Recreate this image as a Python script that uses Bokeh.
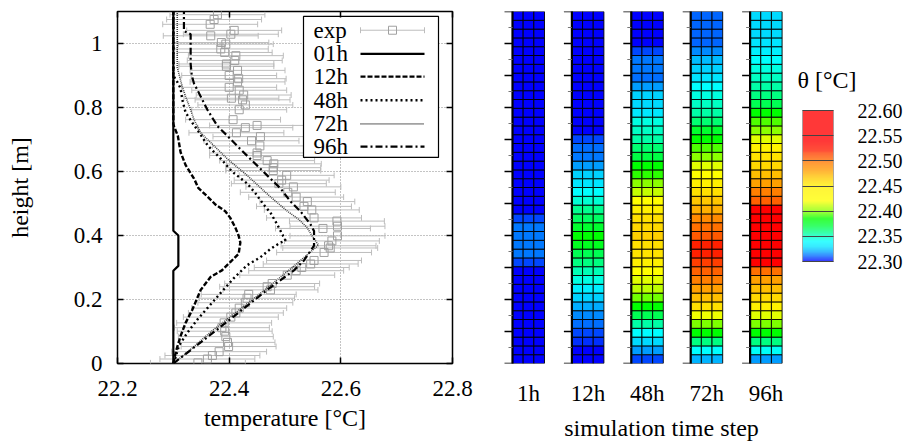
import numpy as np
from bokeh.plotting import figure
from bokeh.models import (Range1d, LinearAxis, FixedTicker, LinearColorMapper,
                          ColorBar, PrintfTickFormatter, ColumnDataSource, Label)
from bokeh.layouts import row
from bokeh.embed import file_html
from bokeh.resources import INLINE
from bokeh.core.properties import value

FONT = "Liberation Serif"

# ---------------- data: simulated vertical profiles ----------------
h01 = [0.0, 0.29, 0.305, 0.40, 0.415, 1.1]
t01 = [22.300, 22.300, 22.309, 22.309, 22.300, 22.300]

h12 = [0.0, 0.04, 0.086, 0.127, 0.168, 0.23, 0.271, 0.291, 0.317, 0.343, 0.378, 0.399,
       0.425, 0.455, 0.476, 0.496, 0.527, 0.548, 0.578, 0.62, 0.66, 0.712, 0.742, 0.75, 1.1]
t12 = [22.300, 22.305, 22.313, 22.322, 22.334, 22.349, 22.367, 22.387, 22.402, 22.417, 22.420, 22.417,
       22.411, 22.402, 22.393, 22.376, 22.358, 22.345, 22.337, 22.322, 22.313, 22.308, 22.301, 22.300, 22.300]

h48 = [0.0, 0.019, 0.055, 0.096, 0.137, 0.173, 0.219, 0.266, 0.307, 0.332, 0.358, 0.378, 0.384,
       0.404, 0.435, 0.471, 0.496, 0.532, 0.563, 0.60, 0.64, 0.68, 0.72, 0.75, 0.784, 0.825,
       0.86, 0.88, 0.90, 1.1]
t48 = [22.300, 22.304, 22.310, 22.325, 22.343, 22.361, 22.384, 22.408, 22.432, 22.456, 22.474, 22.492, 22.501,
       22.495, 22.486, 22.474, 22.462, 22.447, 22.432, 22.405, 22.385, 22.362, 22.347, 22.335, 22.322, 22.316,
       22.313, 22.307, 22.300, 22.300]

h72 = [0.0, 0.05, 0.10, 0.15, 0.20, 0.25, 0.30, 0.34, 0.37, 0.40, 0.424, 0.45, 0.475, 0.50, 0.527,
       0.588, 0.639, 0.68, 0.721, 0.762, 0.793, 0.834, 0.865, 0.885, 0.926, 1.1]
t72 = [22.300, 22.335, 22.368, 22.405, 22.442, 22.478, 22.513, 22.540, 22.560, 22.548, 22.540, 22.525,
       22.505, 22.488, 22.470, 22.432, 22.397, 22.373, 22.349, 22.337, 22.331, 22.322, 22.316, 22.313,
       22.307, 22.307]

h96 = [0.0, 0.066, 0.148, 0.23, 0.291, 0.322, 0.368, 0.414, 0.434, 0.475, 0.506, 0.547, 0.588, 0.629,
       0.67, 0.711, 0.742, 0.793, 0.834, 0.855, 0.875, 0.90, 0.936, 1.029, 1.039, 1.1]
t96 = [22.300, 22.349, 22.409, 22.468, 22.516, 22.534, 22.552, 22.552, 22.546, 22.528, 22.510, 22.492,
       22.468, 22.444, 22.420, 22.397, 22.379, 22.361, 22.349, 22.343, 22.337, 22.333, 22.331, 22.331,
       22.319, 22.319]

# ---------------- data: experiment ----------------
exp_h = [1.09, 1.075, 1.06, 1.041, 1.029, 1.024, 1.003, 0.998, 0.983, 0.972, 0.962, 0.947, 0.936,
         0.929, 0.916, 0.90, 0.89, 0.88, 0.863, 0.854, 0.839, 0.829, 0.824, 0.808, 0.793, 0.762,
         0.744, 0.737, 0.721, 0.709, 0.696, 0.68, 0.658, 0.65, 0.634, 0.624, 0.612, 0.603, 0.588,
         0.573, 0.562, 0.552, 0.535, 0.52, 0.506, 0.491, 0.48, 0.455, 0.445, 0.429, 0.422, 0.399,
         0.383, 0.368, 0.361, 0.347, 0.322, 0.311, 0.30, 0.29, 0.276, 0.25, 0.24, 0.23, 0.216,
         0.204, 0.19, 0.173, 0.158, 0.145, 0.127, 0.112, 0.101, 0.084, 0.066, 0.053, 0.037, 0.025,
         0.014, 0.002]
exp_t = [22.379, 22.373, 22.366, 22.409, 22.403, 22.367, 22.386, 22.394, 22.385, 22.392, 22.412, 22.410, 22.395,
         22.395, 22.415, 22.400, 22.417, 22.415, 22.400, 22.418, 22.426, 22.404, 22.424, 22.429, 22.418, 22.407,
         22.450, 22.429, 22.413, 22.456, 22.440, 22.455, 22.450, 22.450, 22.468, 22.480, 22.479, 22.479, 22.503,
         22.494, 22.489, 22.515, 22.505, 22.520, 22.540, 22.534, 22.548, 22.552, 22.593, 22.594, 22.568, 22.594,
         22.584, 22.578, 22.581, 22.570, 22.552, 22.546, 22.530, 22.520, 22.504, 22.477, 22.468, 22.474, 22.435,
         22.432, 22.429, 22.418, 22.412, 22.403, 22.391, 22.387, 22.392, 22.394, 22.397, 22.399, 22.382, 22.370,
         22.361, 22.344]
exp_err = 0.085

# ---------------- data: simulated cell temperatures (bottom -> top, 40 rows) ----------------
cells_1h = [22.300, 22.300, 22.300, 22.300, 22.300, 22.300, 22.300, 22.300, 22.300, 22.300,
            22.300, 22.308, 22.314, 22.314, 22.314, 22.314, 22.308, 22.300, 22.300, 22.300,
            22.300, 22.300, 22.300, 22.300, 22.300, 22.300, 22.300, 22.300, 22.300, 22.300,
            22.300, 22.300, 22.300, 22.300, 22.300, 22.300, 22.300, 22.300, 22.300, 22.300]
cells_12h = [22.300, 22.300, 22.305, 22.308, 22.312, 22.316, 22.320, 22.326, 22.333, 22.345,
             22.352, 22.360, 22.367, 22.378, 22.385, 22.375, 22.365, 22.358, 22.348, 22.340,
             22.330, 22.326, 22.318, 22.314, 22.312, 22.308, 22.300, 22.300, 22.300, 22.300,
             22.300, 22.300, 22.300, 22.300, 22.300, 22.300, 22.300, 22.300, 22.300, 22.300]
cells_48h = [22.308, 22.318, 22.328, 22.340, 22.355, 22.367, 22.385, 22.397, 22.410, 22.415,
             22.420, 22.450, 22.455, 22.457, 22.463, 22.460, 22.457, 22.450, 22.420, 22.411,
             22.400, 22.390, 22.385, 22.370, 22.363, 22.355, 22.350, 22.345, 22.331, 22.328,
             22.326, 22.318, 22.312, 22.314, 22.314, 22.308, 22.300, 22.300, 22.300, 22.300]
cells_72h = [22.322, 22.340, 22.360, 22.385, 22.398, 22.418, 22.457, 22.470, 22.480, 22.495,
             22.505, 22.515, 22.520, 22.520, 22.507, 22.500, 22.490, 22.475, 22.467, 22.457,
             22.450, 22.420, 22.415, 22.400, 22.393, 22.385, 22.375, 22.363, 22.355, 22.350,
             22.345, 22.340, 22.330, 22.326, 22.323, 22.316, 22.311, 22.311, 22.311, 22.311]
cells_96h = [22.318, 22.342, 22.360, 22.385, 22.398, 22.415, 22.450, 22.460, 22.470, 22.480,
             22.500, 22.550, 22.550, 22.550, 22.550, 22.550, 22.550, 22.550, 22.505, 22.495,
             22.480, 22.470, 22.460, 22.455, 22.445, 22.415, 22.400, 22.393, 22.385, 22.367,
             22.360, 22.355, 22.350, 22.345, 22.340, 22.333, 22.330, 22.327, 22.327, 22.327]
time_labels = ["1h", "12h", "48h", "72h", "96h"]
cell_columns = [cells_1h, cells_12h, cells_48h, cells_72h, cells_96h]

temp_ticks = [22.2, 22.4, 22.6, 22.8]
height_ticks = [0.0, 0.2, 0.4, 0.6, 0.8, 1.0]
cb_ticks = [22.30, 22.35, 22.40, 22.45, 22.50, 22.55, 22.60]
heat_major = [0.0, 0.1, 0.2, 0.3, 0.4, 0.5, 0.6, 0.7, 0.8, 0.9, 1.0, 1.1]
heat_minor = [0.05, 0.15, 0.25, 0.35, 0.45, 0.55, 0.65, 0.75, 0.85, 0.95, 1.05]

# ---------------- colour palette (rainbow) ----------------
anchors = [(22.300, "#0000ff"), (22.308, "#0050ff"), (22.314, "#0080ff"), (22.318, "#00a0ff"),
           (22.323, "#00c0ff"), (22.328, "#00e0ff"), (22.333, "#00f0ff"), (22.340, "#00ffff"),
           (22.350, "#00ffc0"), (22.360, "#00ff80"), (22.370, "#00ff40"), (22.385, "#00ff00"),
           (22.398, "#80ff00"), (22.410, "#c0ff00"), (22.420, "#ffff00"), (22.450, "#fff000"),
           (22.460, "#ffd800"), (22.470, "#ffc000"), (22.480, "#ffa000"), (22.495, "#ff8000"),
           (22.505, "#ff6000"), (22.515, "#ff4000"), (22.520, "#ff2000"), (22.540, "#ff0000"),
           (22.600, "#ff0000")]
LOW, HIGH = 22.30, 22.60


def hex2rgb(h):
    return [int(h[i:i + 2], 16) for i in (1, 3, 5)]


av = np.array([a[0] for a in anchors])
ac = np.array([hex2rgb(a[1]) for a in anchors], dtype=float)
levels = np.linspace(LOW, HIGH, 256)
palette = []
for lv in levels:
    rgb = [np.interp(lv, av, ac[:, k]) for k in range(3)]
    palette.append("#%02x%02x%02x" % tuple(int(round(c)) for c in rgb))
mapper = LinearColorMapper(palette=palette, low=LOW, high=HIGH)

# ---------------- left figure: profiles ----------------
X0, X1, Y0, Y1 = 22.2, 22.8, 0.0, 1.1
FL, FT, FW, FH = 117, 11, 335, 357
FB = FT + FH
H = 443
TICK_STANDOFF = 17
LABEL_STANDOFF = 6


def xd(px):
    return X0 + (px - FL) * (X1 - X0) / FW


def yd(py):
    return Y1 - (py - FT) * (Y1 - Y0) / FH


def dyp(n):
    return n * (Y1 - Y0) / FH


p1 = figure(width=476, height=H, x_range=Range1d(X0, X1), y_range=Range1d(Y0, Y1),
            output_backend="svg", toolbar_location=None,
            min_border_left=FL, min_border_right=476 - FL - FW, min_border_top=FT,
            min_border_bottom=H - FB)
p1.outline_line_color = "black"
p1.outline_line_width = 1.5

for ax in (p1.xaxis[0], p1.yaxis[0]):
    ax.axis_line_color = None
    ax.major_tick_in = 6
    ax.major_tick_out = 0
    ax.minor_tick_in = 0
    ax.minor_tick_out = 0
    ax.minor_tick_line_color = None
    ax.major_tick_line_color = "black"
    ax.major_tick_line_width = 1.5
    ax.major_label_text_font = FONT
    ax.major_label_text_font_size = "23px"
    ax.major_label_text_color = "black"
    ax.axis_label_text_font = FONT
    ax.axis_label_text_font_size = "24px"
    ax.axis_label_text_font_style = "normal"
    ax.axis_label_text_color = "black"
p1.xaxis.ticker = FixedTicker(ticks=temp_ticks)
p1.yaxis.ticker = FixedTicker(ticks=height_ticks)
p1.xaxis.axis_label = "temperature [°C]"
p1.yaxis.axis_label = "height [m]"
p1.xaxis.major_label_standoff = TICK_STANDOFF
p1.xaxis.axis_label_standoff = LABEL_STANDOFF
p1.yaxis.major_label_standoff = 15
p1.yaxis.axis_label_standoff = 38
p1.yaxis.major_label_overrides = {0: "0", 1: "1"}

for loc, tk in (("above", temp_ticks), ("right", height_ticks)):
    ax = LinearAxis(ticker=FixedTicker(ticks=tk), axis_line_color=None, major_tick_in=6,
                    major_tick_out=0, minor_tick_in=0, minor_tick_out=0,
                    minor_tick_line_color=None, major_tick_line_color="black",
                    major_tick_line_width=1.5, major_label_text_font_size="1px",
                    major_label_standoff=0,
                    major_label_overrides={t: "" for t in tk})
    p1.add_layout(ax, loc)

p1.xgrid.ticker = FixedTicker(ticks=[22.4, 22.6])
p1.ygrid.ticker = FixedTicker(ticks=[0.2, 0.4, 0.6, 0.8, 1.0])
p1.grid.grid_line_dash = "1 2"
p1.grid.grid_line_color = "#888888"
p1.grid.grid_line_width = 1

et = np.array(exp_t)
eh = np.array(exp_h)
esrc = ColumnDataSource(dict(x=et, y=eh, lo=et - exp_err, hi=et + exp_err,
                             yb=eh - dyp(3), yt=eh + dyp(3)))
EC = "#bdbdbd"
p1.segment(x0="lo", y0="y", x1="hi", y1="y", source=esrc, line_color=EC, line_width=1)
p1.segment(x0="lo", y0="yb", x1="lo", y1="yt", source=esrc, line_color=EC, line_width=1)
p1.segment(x0="hi", y0="yb", x1="hi", y1="yt", source=esrc, line_color=EC, line_width=1)
p1.scatter(x="x", y="y", source=esrc, marker="square", size=8, fill_color=None,
           line_color="#a0a0a0", line_width=1)

styles = {
    "01h": dict(line_color="black", line_width=2.2),
    "12h": dict(line_color="black", line_width=2.4, line_dash="5 2"),
    "48h": dict(line_color="black", line_width=2.4, line_dash="2 3"),
    "72h": dict(line_color="#444444", line_width=1.6, line_dash="1 1"),
    "96h": dict(line_color="black", line_width=2.2, line_dash="7 3 2 3"),
}
profiles = {"01h": (t01, h01), "12h": (t12, h12), "48h": (t48, h48),
            "72h": (t72, h72), "96h": (t96, h96)}
for name, (tt, hh) in profiles.items():
    p1.line(tt, hh, **styles[name])

# legend (text left, sample right)
p1.quad(left=[xd(303)], right=[xd(438)], top=[yd(16)], bottom=[yd(159)],
        fill_color="white", line_color="black", line_width=1.2)
leg_labels = ["exp", "01h", "12h", "48h", "72h", "96h"]
leg_rows = [30, 54, 77, 101, 125, 148]
p1.text(x=[xd(313)] * 6, y=[yd(r) for r in leg_rows], text=leg_labels,
        text_font=value(FONT), text_font_size="23px", text_baseline="middle",
        text_align="left", text_color="black")
ly = yd(leg_rows[0])
p1.segment(x0=[xd(360), xd(360), xd(424)], y0=[ly, ly - dyp(3), ly - dyp(3)],
           x1=[xd(424), xd(360), xd(424)], y1=[ly, ly + dyp(3), ly + dyp(3)],
           line_color=EC, line_width=1)
p1.scatter(x=[xd(392)], y=[ly], marker="square", size=8, fill_color=None,
           line_color="#a0a0a0", line_width=1)
for name, r in zip(leg_labels[1:], leg_rows[1:]):
    p1.line([xd(360), xd(424)], [yd(r), yd(r)], **styles[name])

# ---------------- right figure: heat maps ----------------
PX_UNIT = 59.4
C0 = 528          # page x of the first column centre
COL_W = 32 / PX_UNIT
N_ROWS = len(cells_1h)
ROW_H = (Y1 - Y0) / N_ROWS


def xd2(px):
    return (px - C0) / PX_UNIT


p2 = figure(width=430, height=H, x_range=Range1d(xd2(476), xd2(906)),
            y_range=Range1d(Y0, Y1), output_backend="svg", toolbar_location=None,
            y_axis_location=None, min_border_left=0, min_border_right=0,
            min_border_top=FT, min_border_bottom=H - FB)
p2.outline_line_color = None
p2.grid.visible = False

xs, ys, vs = [], [], []
for ci, col in enumerate(cell_columns):
    for r, v in enumerate(col):
        for k in range(3):
            xs.append(ci - COL_W / 2 + (k + 0.5) * COL_W / 3)
            ys.append((r + 0.5) * ROW_H)
            vs.append(v)
hsrc = ColumnDataSource(dict(x=xs, y=ys, v=vs))
p2.rect(x="x", y="y", width=COL_W / 3, height=ROW_H, source=hsrc,
        fill_color={"field": "v", "transform": mapper}, line_color="black", line_width=0.9)

for ci in range(len(cell_columns)):
    x0 = ci - COL_W / 2
    p2.segment(x0=[x0], y0=[Y0 - dyp(1)], x1=[x0], y1=[Y1 + dyp(1)], line_color="black",
               line_width=2.2)
    p2.segment(x0=[x0 - 8 / PX_UNIT] * len(heat_major), y0=heat_major, x1=[x0] * len(heat_major),
               y1=heat_major, line_color="black", line_width=1.5)
    p2.segment(x0=[x0 - 4 / PX_UNIT] * len(heat_minor), y0=heat_minor, x1=[x0] * len(heat_minor),
               y1=heat_minor, line_color="#777777", line_width=1)

xa = p2.xaxis[0]
xa.ticker = FixedTicker(ticks=list(range(len(time_labels))))
xa.major_label_overrides = {i: lab for i, lab in enumerate(time_labels)}
xa.axis_line_color = None
xa.major_tick_line_color = None
xa.minor_tick_line_color = None
xa.major_tick_in = 0
xa.major_tick_out = 0
xa.minor_tick_in = 0
xa.minor_tick_out = 0
xa.major_label_text_font = FONT
xa.major_label_text_font_size = "23px"
xa.major_label_text_color = "black"
xa.major_label_standoff = TICK_STANDOFF
# the caption sits left of the frame centre: trailing no-break spaces shift it
xa.axis_label = "simulation time step" + "\u00a0" * 10
xa.axis_label_text_font = FONT
xa.axis_label_text_font_size = "24px"
xa.axis_label_text_font_style = "normal"
xa.axis_label_text_color = "black"
xa.axis_label_standoff = LABEL_STANDOFF

cb = ColorBar(color_mapper=mapper, location=(326, 102), width=31, height=151,
              padding=0, margin=0, title=None,
              ticker=FixedTicker(ticks=cb_ticks), formatter=PrintfTickFormatter(format="%.2f"),
              major_label_text_font=FONT, major_label_text_font_size="20px",
              major_label_text_color="black", label_standoff=24,
              major_tick_in=31, major_tick_out=0, major_tick_line_color="#444444",
              major_tick_line_width=1, minor_tick_line_color=None,
              bar_line_color="#999999", scale_alpha=0.78,
              background_fill_color=None, border_line_color=None)
p2.add_layout(cb, "center")
p2.add_layout(Label(x=xd2(797), y=yd(80), text="θ [°C]", text_font=FONT,
                    text_font_size="24px", text_baseline="middle", text_align="left",
                    text_color="black"))

layout = row(p1, p2)
open("out.html", "w").write(file_html(layout, INLINE))
